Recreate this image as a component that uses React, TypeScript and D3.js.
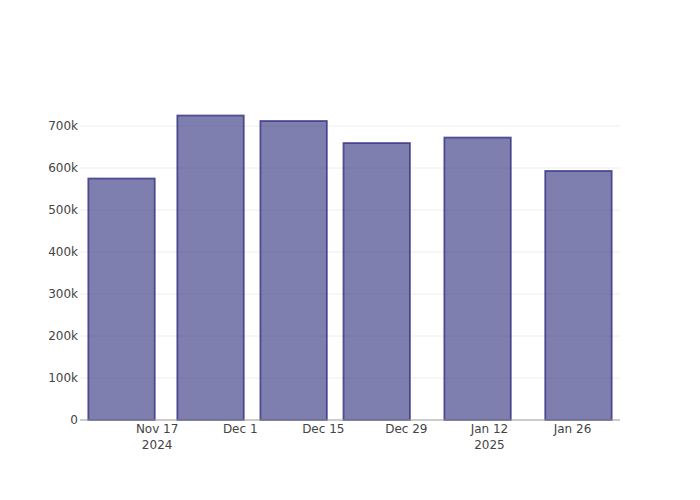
import React from "react";
import * as d3 from "d3";

const dates = ["2024-11-11", "2024-11-26", "2024-12-10", "2024-12-24", "2025-01-10", "2025-01-27"];
const values = [575000, 725000, 712000, 659500, 672500, 593000];
const yTicks = [0, 100000, 200000, 300000, 400000, 500000, 600000, 700000];
const xTicks = ["2024-11-17", "2024-12-01", "2024-12-15", "2024-12-29", "2025-01-12", "2025-01-26"];
const xTickLabels = [["Nov 17", "2024"], ["Dec 1"], ["Dec 15"], ["Dec 29"], ["Jan 12", "2025"], ["Jan 26"]];
const xDomain = ["2024-11-04", "2025-02-03"];

const W = 700, H = 500;
const m = { l: 80, r: 80, t: 100, b: 80 };

const parse = (s: string) => new Date(s + "T00:00:00Z");

export default function App() {
  const x = d3.scaleUtc().domain(xDomain.map(parse)).range([m.l, W - m.r]);
  const y = d3.scaleLinear().domain([0, 700000]).range([H - m.b, H - m.b - 294]);
  const dayPx = x(parse("2024-11-05")) - x(parse("2024-11-04"));
  const bw = 14 * 0.8 * dayPx;
  const font = "'DejaVu Sans', sans-serif";
  return (
    <svg width={W} height={H} style={{ position: "absolute", left: 0, top: 0 }}>
      <rect width={W} height={H} fill="#fff" />
      {yTicks.slice(1).map((t) => (
        <line key={t} x1={m.l} x2={W - m.r} y1={y(t)} y2={y(t)} stroke="#eee" strokeWidth={1} />
      ))}
      {dates.map((d, i) => {
        const cx = x(parse(d));
        return (
          <rect
            key={d}
            x={cx - bw / 2}
            y={y(values[i])}
            width={bw}
            height={y(0) - y(values[i])}
            fill="rgba(42,42,122,0.6)"
            stroke="rgba(45,40,125,0.75)"
            strokeWidth={1.8}
          />
        );
      })}
      <line x1={m.l} x2={W - m.r} y1={y(0)} y2={y(0)} stroke="#999" strokeWidth={1} />
      {yTicks.map((t) => (
        <text key={t} x={m.l - 2} y={y(t)} dy="0.35em" textAnchor="end" fontFamily={font} fontSize={12} fill="#444">
          {t === 0 ? "0" : `${t / 1000}k`}
        </text>
      ))}
      {xTicks.map((t, i) => (
        <text key={t} x={x(parse(t))} y={433} textAnchor="middle" fontFamily={font} fontSize={12} fill="#444">
          {xTickLabels[i].map((l, j) => (
            <tspan key={j} x={x(parse(t))} dy={j === 0 ? 0 : 16}>
              {l}
            </tspan>
          ))}
        </text>
      ))}
    </svg>
  );
}
